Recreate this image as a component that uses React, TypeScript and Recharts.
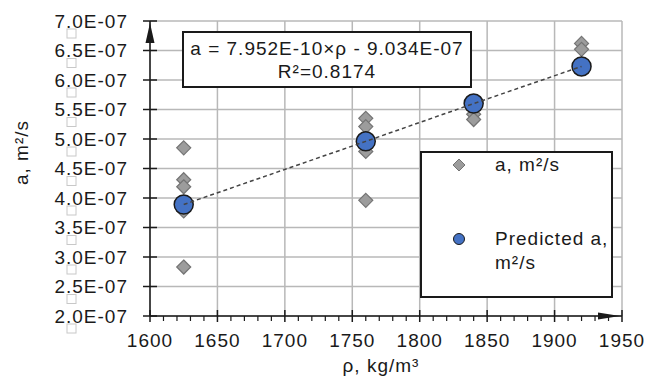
import React from "react";
import { ScatterChart, Scatter, XAxis, YAxis, CartesianGrid, Legend, ReferenceDot } from "recharts";

const FONT = '"Liberation Sans", Arial, sans-serif';
const INK = "#1a1a1a";
const GRID = "#b8b8b8";

// measured points
const measuredRho = [1625, 1625, 1625, 1625, 1625, 1760, 1760, 1760, 1760, 1840, 1840, 1920, 1920];
const measuredA = [
  4.85e-7, 4.31e-7, 4.19e-7, 3.78e-7, 2.83e-7,
  5.35e-7, 5.21e-7, 4.79e-7, 3.96e-7,
  5.42e-7, 5.33e-7,
  6.62e-7, 6.52e-7,
];

// predicted points (they sit on the trend line)
const predictedRho = [1625, 1760, 1840, 1920];
const predictedA = [3.89e-7, 4.96e-7, 5.6e-7, 6.23e-7];

const xMajorTicks = [1600, 1650, 1700, 1750, 1800, 1850, 1900, 1950];
const yTicks = [2e-7, 2.5e-7, 3e-7, 3.5e-7, 4e-7, 4.5e-7, 5e-7, 5.5e-7, 6e-7, 6.5e-7, 7e-7];

const equationText = "a = 7.952E-10×ρ - 9.034E-07";
const r2Text = "R²=0.8174";

const measured = measuredRho.map((x, i) => ({ x, y: measuredA[i] }));
const predicted = predictedRho.map((x, i) => ({ x, y: predictedA[i] }));

// minor ticks every 10 between the majors
const xAllTicks: number[] = [];
for (let t = xMajorTicks[0]; t <= xMajorTicks[xMajorTicks.length - 1]; t += 10) xAllTicks.push(t);

const X_TICK_SIZE = 6;
const X_TICK_MARGIN = 12;
const Y_TICK_SIZE = 7;
const Y_TICK_MARGIN = 15;

const fmtY = (v: number) => (v / 1e-7).toFixed(1) + "E-07";

const textStyle = { fontFamily: FONT, fontSize: 19, letterSpacing: 1, fill: INK };

function XTick(props: any) {
  const { x, y, payload } = props;
  const axisY = y - X_TICK_SIZE - X_TICK_MARGIN;
  const major = xMajorTicks.includes(payload.value);
  return (
    <g>
      {major ? (
        <line x1={x} x2={x} y1={axisY - 6} y2={axisY + 6} stroke={INK} strokeWidth={1.5} />
      ) : (
        <line x1={x} x2={x} y1={axisY} y2={axisY + 5} stroke={INK} strokeWidth={1.2} />
      )}
      {major && (
        <text x={x} y={axisY + 31} textAnchor="middle" style={textStyle}>
          {payload.value}
        </text>
      )}
    </g>
  );
}

function YTick(props: any) {
  const { x, y, payload } = props;
  const axisX = x + Y_TICK_SIZE + Y_TICK_MARGIN;
  return (
    <g>
      <line x1={axisX - 7} x2={axisX + 7} y1={y} y2={y} stroke={INK} strokeWidth={1.5} />
      <text x={x} y={y} dy="0.36em" textAnchor="end" style={textStyle}>
        {fmtY(payload.value)}
      </text>
      <rect x={67} y={y + 8} width={9} height={9} fill="#fff" stroke="#c8c8c8" strokeWidth={1} />
    </g>
  );
}

const Diamond = (props: any) => {
  const { cx, cy } = props;
  const h = 7;
  return (
    <polygon
      points={`${cx},${cy - h} ${cx + h},${cy} ${cx},${cy + h} ${cx - h},${cy}`}
      fill="#9c9c9c"
      stroke="#747474"
      strokeWidth={1.2}
    />
  );
};

const Dot = (props: any) => (
  <circle cx={props.cx} cy={props.cy} r={9.5} fill="#4472C4" stroke={INK} strokeWidth={1.5} />
);

const NoShape = () => <g />;

const YArrow = (props: any) => {
  const { cx, cy } = props;
  return <polygon points={`${cx},${cy + 2} ${cx - 4.5},${cy + 22} ${cx + 4.5},${cy + 22}`} fill={INK} />;
};

const XArrow = (props: any) => {
  const { cx, cy } = props;
  return <polygon points={`${cx - 2},${cy} ${cx - 24},${cy - 3.5} ${cx - 24},${cy + 3.5}`} fill={INK} />;
};

function LegendBox(props: any) {
  const items = (props.payload || [])
    .filter((p: any) => p.type !== "none")
    .sort((a: any, b: any) => (a.type === "diamond" ? -1 : 0) - (b.type === "diamond" ? -1 : 0));
  return (
    <div
      style={{
        position: "relative",
        width: 193,
        height: 147,
        boxSizing: "border-box",
        border: `2px solid ${INK}`,
        background: "#fff",
        fontFamily: FONT,
        fontSize: 19,
        letterSpacing: 1,
        color: INK,
      }}
    >
      {items.map((entry: any, i: number) => {
        const top = i === 0 ? 12 : 86;
        return (
          <div key={i} style={{ position: "absolute", left: 0, top: top - 12, width: "100%" }}>
            <svg width={20} height={20} style={{ position: "absolute", left: 27, top: 2 }}>
              {entry.type === "diamond" ? (
                <polygon points="10,4 16,10 10,16 4,10" fill="#9c9c9c" stroke="#747474" strokeWidth={1} />
              ) : (
                <circle cx={10} cy={10} r={5.5} fill="#4472C4" stroke={INK} strokeWidth={1} />
              )}
            </svg>
            <div style={{ position: "absolute", left: 73, top: 0, width: 118, lineHeight: "24px" }}>
              {String(entry.value)
                .split("\n")
                .map((line: string, j: number) => (
                  <div key={j}>{line}</div>
                ))}
            </div>
          </div>
        );
      })}
    </div>
  );
}

export default function App() {
  return (
    <div style={{ position: "absolute", left: 0, top: 0, width: 646, height: 381, background: "#fff" }}>
      <ScatterChart width={646} height={381} margin={{ top: 21, right: 24, bottom: 0, left: 0 }}>
        <CartesianGrid
          stroke={GRID}
          strokeWidth={1.5}
          verticalCoordinatesGenerator={({ xAxis, offset }: any) =>
            xMajorTicks.map((t) =>
              xAxis && typeof xAxis.scale === "function"
                ? xAxis.scale(t)
                : offset.left + ((t - 1600) / 350) * offset.width
            )
          }
        />
        <XAxis
          type="number"
          dataKey="x"
          domain={[1600, 1950]}
          ticks={xAllTicks}
          interval={0}
          height={65}
          tickSize={X_TICK_SIZE}
          tickMargin={X_TICK_MARGIN}
          tickLine={false}
          tick={<XTick />}
          axisLine={{ stroke: INK, strokeWidth: 1.5 }}
          allowDataOverflow
          label={{
            content: (p: any) => {
              const vb = p.viewBox;
              return (
                <text x={vb.x + vb.width / 2 - 5} y={372} textAnchor="middle" style={textStyle}>
                  ρ, kg/m³
                </text>
              );
            },
          }}
        />
        <YAxis
          type="number"
          dataKey="y"
          domain={[2e-7, 7e-7]}
          ticks={yTicks}
          interval={0}
          width={150}
          tickSize={Y_TICK_SIZE}
          tickMargin={Y_TICK_MARGIN}
          tickLine={false}
          tick={<YTick />}
          axisLine={{ stroke: INK, strokeWidth: 1.5 }}
          allowDataOverflow
          label={{
            content: (p: any) => {
              const vb = p.viewBox;
              const cy = vb.y + vb.height / 2 - 16;
              return (
                <text x={28} y={cy} textAnchor="middle" transform={`rotate(-90, 28, ${cy})`} style={textStyle}>
                  a, m²/s
                </text>
              );
            },
          }}
        />
        <Legend
          layout="vertical"
          align="center"
          verticalAlign="middle"
          itemSorter={null as any}
          content={<LegendBox />}
          wrapperStyle={{ position: "absolute", left: 420, top: 151, width: 193, height: 147 }}
        />
        <Scatter
          name="a, m²/s"
          data={measured}
          legendType="diamond"
          fill="#9c9c9c"
          shape={Diamond}
          isAnimationActive={false}
        />
        <Scatter
          name={"Predicted a,\nm²/s"}
          data={predicted}
          legendType="circle"
          fill="#4472C4"
          shape={Dot}
          isAnimationActive={false}
        />
        <Scatter
          name="trend"
          data={predicted}
          legendType="none"
          shape={NoShape}
          line={{ stroke: "#444", strokeWidth: 1.5, strokeDasharray: "4 3" }}
          isAnimationActive={false}
        />
        <ReferenceDot x={1600} y={7e-7} ifOverflow="visible" shape={YArrow} />
        <ReferenceDot x={1950} y={2e-7} ifOverflow="visible" shape={XArrow} />
      </ScatterChart>
      <div
        style={{
          position: "absolute",
          left: 182,
          top: 31,
          width: 290,
          height: 57,
          boxSizing: "border-box",
          border: `2px solid ${INK}`,
          background: "#fff",
          fontFamily: FONT,
          fontSize: 19,
          letterSpacing: 1,
          color: INK,
          textAlign: "center",
          lineHeight: "23px",
          paddingTop: 4,
        }}
      >
        <div>{equationText}</div>
        <div>{r2Text}</div>
      </div>
    </div>
  );
}
